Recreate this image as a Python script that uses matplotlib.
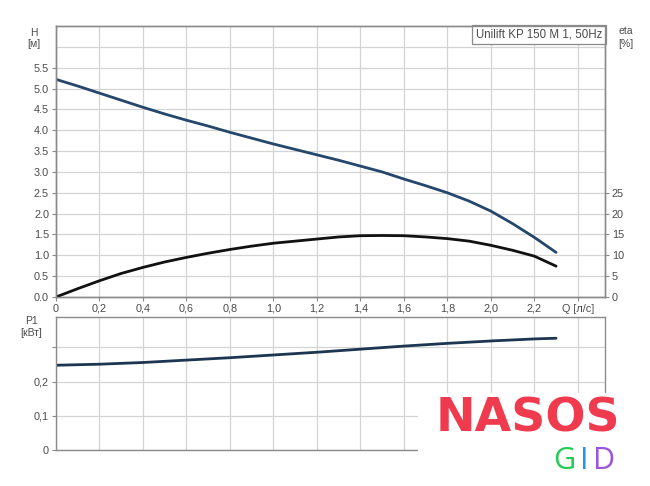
import matplotlib
matplotlib.use("Agg")
import matplotlib.pyplot as plt
from matplotlib.patches import Rectangle

# ---- data ----
Q = [0.0, 0.1, 0.2, 0.3, 0.4, 0.5, 0.6, 0.7, 0.8, 0.9, 1.0, 1.1,
     1.2, 1.3, 1.4, 1.5, 1.6, 1.7, 1.8, 1.9, 2.0, 2.1, 2.2, 2.3]
H = [5.22, 5.06, 4.89, 4.72, 4.55, 4.39, 4.24, 4.10, 3.95, 3.81, 3.67, 3.54,
     3.41, 3.28, 3.14, 3.00, 2.83, 2.67, 2.50, 2.30, 2.06, 1.76, 1.43, 1.07]
ETA = [0.0, 2.0, 3.9, 5.65, 7.1, 8.4, 9.5, 10.5, 11.4, 12.2, 12.9, 13.4,
       13.9, 14.4, 14.7, 14.75, 14.7, 14.4, 14.0, 13.4, 12.4, 11.2, 9.8, 7.4]
Q_P = [0.0, 0.2, 0.4, 0.6, 0.8, 1.0, 1.2, 1.4, 1.6, 1.8, 2.0, 2.2, 2.3]
P1 = [0.248, 0.251, 0.256, 0.263, 0.270, 0.278, 0.286, 0.295, 0.304, 0.312, 0.319, 0.325, 0.327]

x_ticks = [0.0, 0.2, 0.4, 0.6, 0.8, 1.0, 1.2, 1.4, 1.6, 1.8, 2.0, 2.2, 2.4]
x_labels = ["0", "0,2", "0,4", "0,6", "0,8", "1,0", "1,2", "1,4", "1,6", "1,8", "2,0", "2,2", "Q [л/с]"]
h_ticks = [0.0, 0.5, 1.0, 1.5, 2.0, 2.5, 3.0, 3.5, 4.0, 4.5, 5.0, 5.5]
h_labels = ["0.0", "0.5", "1.0", "1.5", "2.0", "2.5", "3.0", "3.5", "4.0", "4.5", "5.0", "5.5"]
eta_ticks = [0, 5, 10, 15, 20, 25]
p_ticks = [0.0, 0.1, 0.2, 0.3]
p_labels = ["0", "0,1", "0,2", ""]

TXT = "#4a4a4a"
GRID = "#d4d4d4"
SPINE = "#8a8a8a"
FS = 7.8
FONT = ['Liberation Sans', 'DejaVu Sans']

plt.rcParams['font.family'] = FONT
fig = plt.figure(figsize=(6.5, 4.86), dpi=100)
W, Hpx = 650, 486

def fx(px):
    return px / W

def fy(py):
    return 1 - py / Hpx

# top axes
ax = fig.add_axes([fx(56), fy(297), fx(605) - fx(56), fy(26) - fy(297)])
ax.set_xlim(0, 2.525)
ax.set_ylim(0, 6.5)
ax.set_xticks(x_ticks)
ax.set_xticklabels(x_labels)
ax.set_yticks(h_ticks)
ax.set_yticklabels(h_labels)
ax.set_yticks([6.0], minor=True)
ax.grid(True, which='both', color=GRID, linewidth=0.9)
ax.tick_params(axis='both', which='major', labelsize=FS, colors=SPINE, labelcolor=TXT, length=3, width=0.8, pad=2)
ax.tick_params(axis='y', which='minor', length=0)
for s in ax.spines.values():
    s.set_color(SPINE)
    s.set_linewidth(1.0)
ax.set_axisbelow(True)
ax.plot(Q, H, color="#24476b", linewidth=2.0, solid_capstyle='round')

ax2 = ax.twinx()
ax2.set_ylim(0, 65)
ax2.set_yticks(eta_ticks)
ax2.set_yticklabels([str(v) for v in eta_ticks])
ax2.tick_params(axis='y', labelsize=FS, colors=SPINE, labelcolor=TXT, length=3, width=0.8, pad=2)
for s in ax2.spines.values():
    s.set_color(SPINE)
    s.set_linewidth(1.0)
ax2.plot(Q, ETA, color="#111111", linewidth=2.0, solid_capstyle='round')

# legend-like box
ax.text(0.995, 0.99, "Unilift KP 150 M 1, 50Hz", transform=ax.transAxes, ha='right', va='top',
        fontsize=8.3, color=TXT,
        bbox=dict(boxstyle='square,pad=0.3', facecolor='white', edgecolor=SPINE, linewidth=0.9))

fig.text(fx(34), fy(33), "H", ha='center', va='center', fontsize=7.5, color=TXT)
fig.text(fx(34), fy(44), "[м]", ha='center', va='center', fontsize=7.5, color=TXT)
fig.text(fx(626), fy(31), "eta", ha='center', va='center', fontsize=7.5, color=TXT)
fig.text(fx(626), fy(44), "[%]", ha='center', va='center', fontsize=7.5, color=TXT)

# bottom axes
bx = fig.add_axes([fx(56), fy(450), fx(605) - fx(56), fy(316.7) - fy(450)])
bx.set_xlim(0, 2.525)
bx.set_ylim(0, 0.39)
bx.set_xticks(x_ticks)
bx.set_xticklabels([])
bx.set_yticks(p_ticks)
bx.set_yticklabels(p_labels)
bx.grid(True, color=GRID, linewidth=0.9)
bx.tick_params(axis='x', length=0)
bx.tick_params(axis='y', labelsize=FS, colors=SPINE, labelcolor=TXT, length=3, width=0.8, pad=2)
for s in bx.spines.values():
    s.set_color(SPINE)
    s.set_linewidth(1.0)
bx.set_axisbelow(True)
bx.plot(Q_P, P1, color="#1c3550", linewidth=2.0, solid_capstyle='round')

fig.text(fx(31), fy(321), "P1", ha='center', va='center', fontsize=7.5, color=TXT)
fig.text(fx(31), fy(333), "[кВт]", ha='center', va='center', fontsize=7.5, color=TXT)

# watermark logo
fig.patches.append(Rectangle((fx(418), 0), 1 - fx(418), fy(393), transform=fig.transFigure,
                             facecolor='white', edgecolor='none', zorder=10))
fig.text(fx(528), fy(419), "NASOS", ha='center', va='center', fontsize=34, fontweight='heavy',
         color="#f03a4e", family=['DejaVu Sans'], zorder=11)
fig.text(fx(564), fy(461), "G", ha='center', va='center', fontsize=22, color="#22cc55",
         family=['Open Sans', 'DejaVu Sans'], zorder=11)
fig.text(fx(584), fy(461), "I", ha='center', va='center', fontsize=22, color="#2196e8",
         family=['Open Sans', 'DejaVu Sans'], zorder=11)
fig.text(fx(604), fy(461), "D", ha='center', va='center', fontsize=22, color="#9b55dd",
         family=['Open Sans', 'DejaVu Sans'], zorder=11)

fig.savefig("out.png", dpi=100)
